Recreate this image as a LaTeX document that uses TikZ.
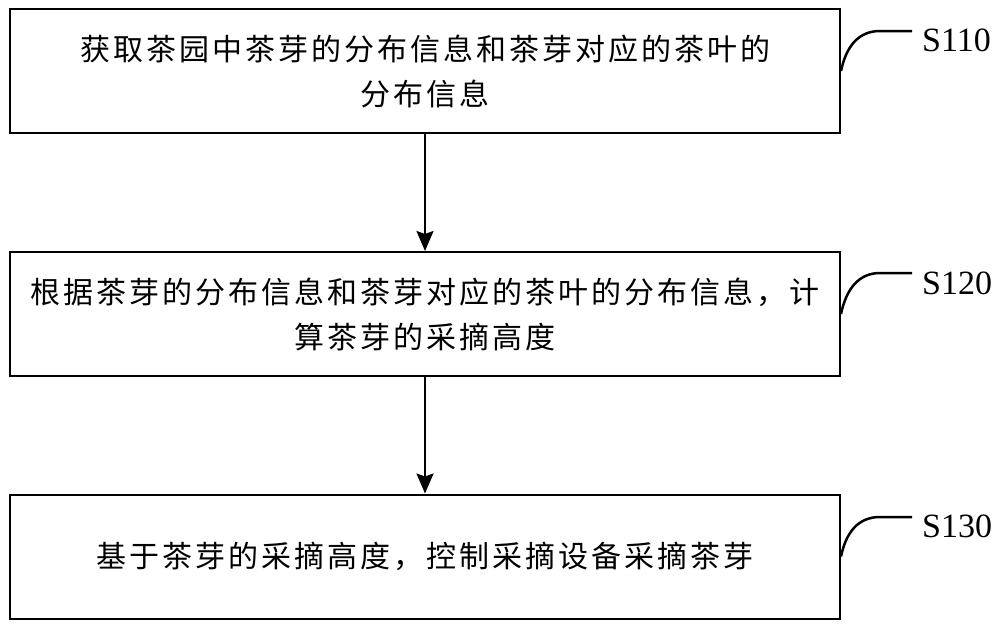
\documentclass[tikz,border=0pt]{standalone}
\usepackage{fontspec}
\setmainfont{Liberation Serif}
\newfontfamily\cjk{Noto Sans CJK SC}[LetterSpace=10]
\usetikzlibrary{arrows.meta}
\begin{document}
\begin{tikzpicture}[x=1pt,y=-1pt,
  stepbox/.style={draw, line width=2pt, minimum width=830pt, minimum height=124pt,
    inner sep=0pt, font=\cjk\fontsize{30}{45}\selectfont, align=center},
  flow/.style={line width=2pt, -{Stealth[length=20pt,width=17pt,inset=3pt]}},
  lbl/.style={font=\fontsize{34}{40}\selectfont, anchor=west, inner sep=0pt},
  tag/.style={line width=2.5pt}
]
\useasboundingbox (0,0) rectangle (1000,630);
\node[stepbox] (b1) at (425,71) {获取茶园中茶芽的分布信息和茶芽对应的茶叶的\\分布信息};
\node[stepbox] (b2) at (425,314) {根据茶芽的分布信息和茶芽对应的茶叶的分布信息，计\\算茶芽的采摘高度};
\node[stepbox] (b3) at (425,556.5) {基于茶芽的采摘高度，控制采摘设备采摘茶芽};
\draw[flow] (b1.south) -- (b2.north);
\draw[flow] (b2.south) -- (b3.north);
\node[lbl] (l1) at (922,40) {S110};
\node[lbl] (l2) at (922,283) {S120};
\node[lbl] (l3) at (922,526) {S130};
\coordinate (k1) at (880,31);
\coordinate (e1) at (912,31);
\coordinate (k2) at (880,273);
\coordinate (e2) at (912,273);
\coordinate (k3) at (880,517);
\coordinate (e3) at (912,517);
\draw[tag] (b1.east) .. controls +(5,-24) and +(-22,0) .. (k1) -- (e1);
\draw[tag] (b2.east) .. controls +(5,-24) and +(-22,0) .. (k2) -- (e2);
\draw[tag] (b3.east) .. controls +(5,-24) and +(-22,0) .. (k3) -- (e3);
\end{tikzpicture}
\end{document}
